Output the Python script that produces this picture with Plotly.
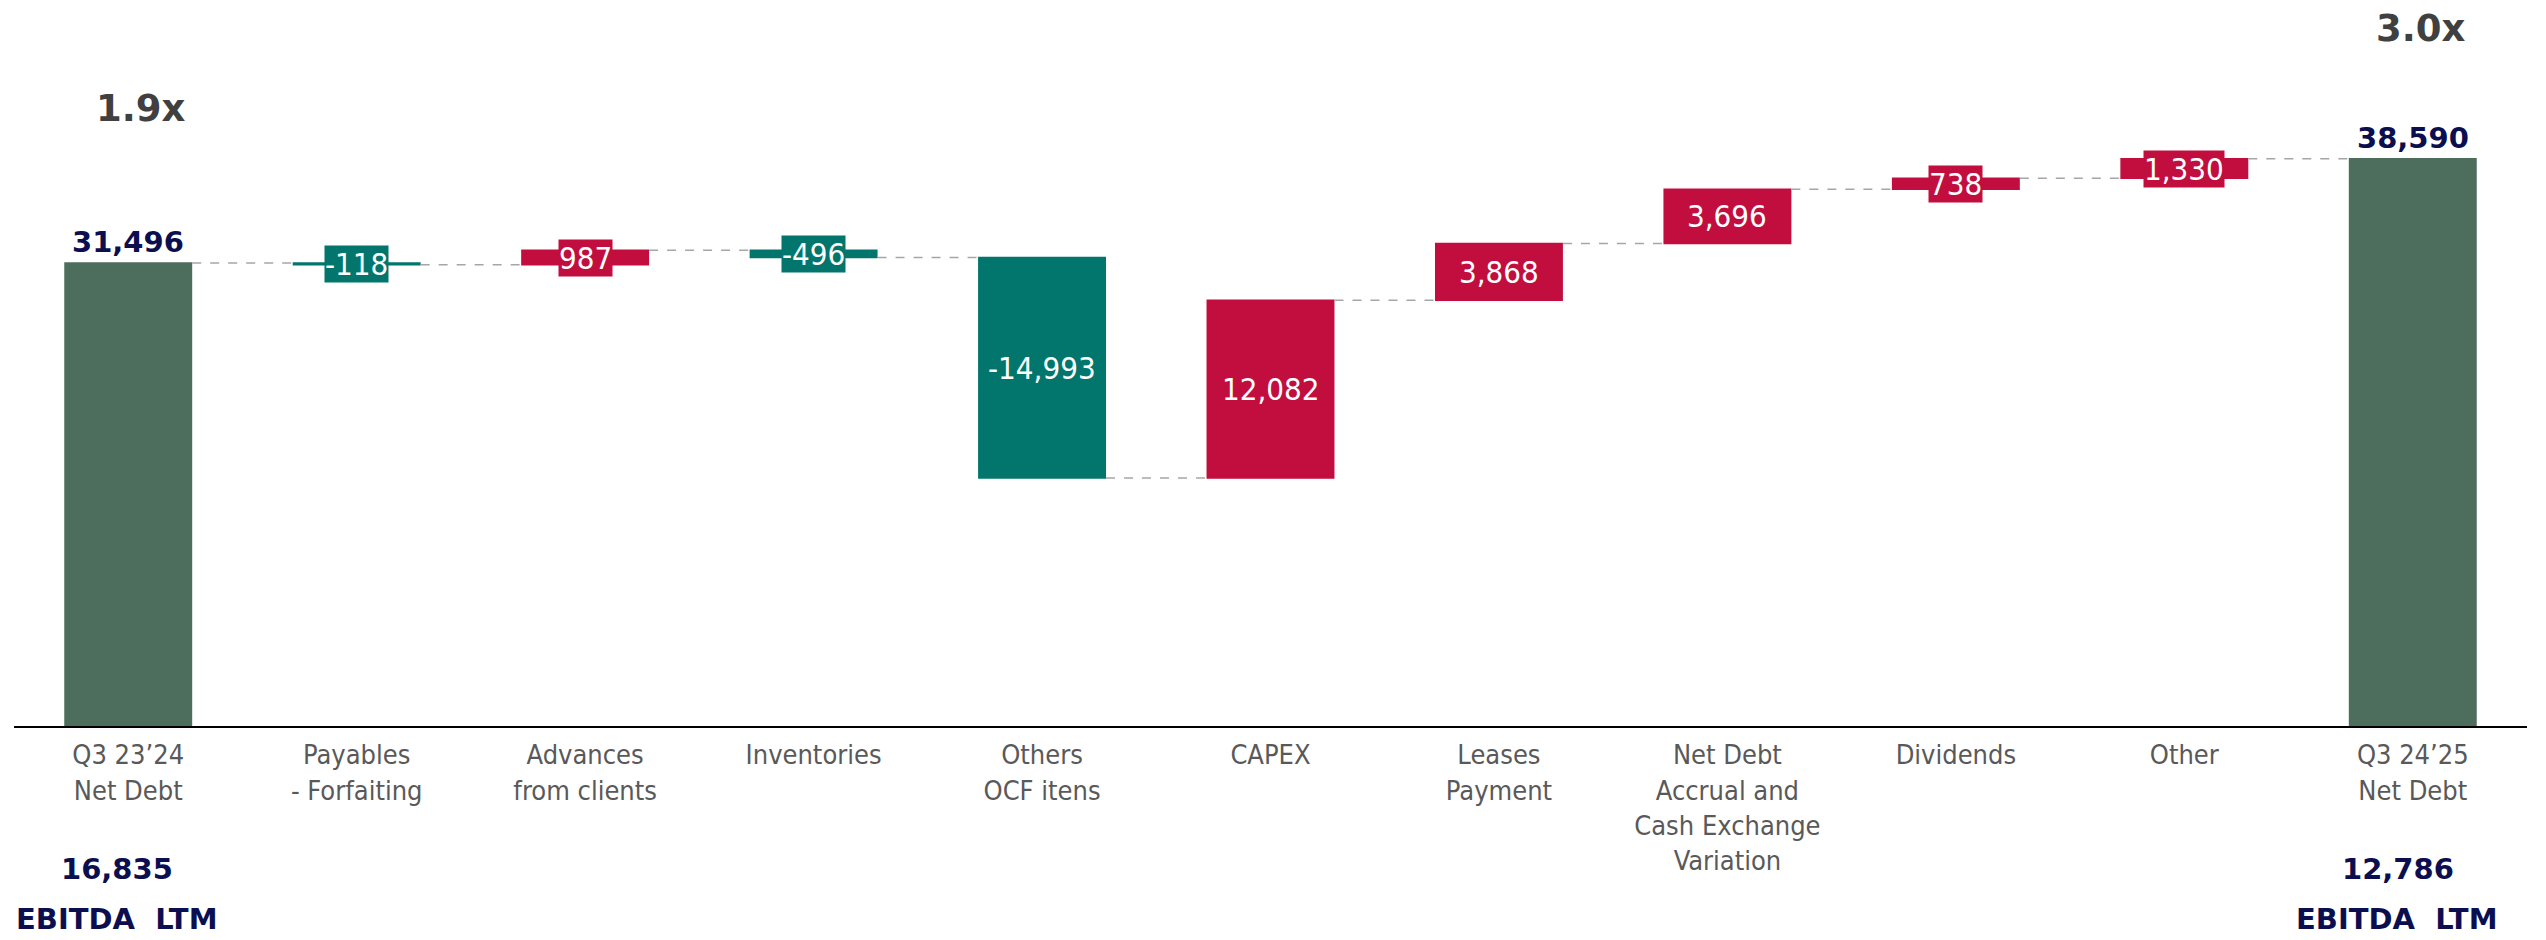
import plotly.graph_objects as go

# categories and values (net debt bridge)
categories = [
    "Q3 23’24<br>Net Debt",
    "Payables<br>- Forfaiting",
    "Advances<br>from clients",
    "Inventories",
    "Others<br>OCF itens",
    "CAPEX",
    "Leases<br>Payment",
    "Net Debt<br>Accrual and<br>Cash Exchange<br>Variation",
    "Dividends",
    "Other",
    "Q3 24’25<br>Net Debt",
]
measures = ["absolute"] + ["relative"] * 9 + ["total"]
values = [31496, -118, 987, -496, -14993, 12082, 3868, 3696, 738, 1330, 38590]
total_labels = ["31,496", "38,590"]
leverage = ["1.9x", "3.0x"]
ebitda = ["16,835", "12,786"]

TOTAL_C = "#4E6E5D"
NEG_C = "#02766C"
POS_C = "#C20E3E"
NAVY = "#0B0F50"
GREY = "#595959"
COND = "DejaVu Sans Condensed, DejaVu Sans, sans-serif"
BOLD = "DejaVu Sans, sans-serif"

fig = go.Figure(go.Waterfall(
    x=categories,
    y=values,
    measure=measures,
    textposition="none",
    totals=dict(marker=dict(color=TOTAL_C)),
    increasing=dict(marker=dict(color=POS_C)),
    decreasing=dict(marker=dict(color=NEG_C)),
    connector=dict(mode="between", line=dict(color="#A6A6A6", width=1.5, dash="dash")),
    hoverinfo="skip",
))

# delta labels, centred on each floating bar
running = values[0]
annotations = []
for cat, v in zip(categories[1:-1], values[1:-1]):
    mid = running + v / 2
    running += v
    annotations.append(dict(
        x=cat, y=mid, xref="x", yref="y", text=f"{v:,}", showarrow=False,
        font=dict(family=COND, size=31, color="white"),
        bgcolor=POS_C if v > 0 else NEG_C, borderpad=0,
    ))

# total labels on top of the first and last bar
for cat, lab, val in zip([categories[0], categories[-1]], total_labels, [values[0], values[-1]]):
    annotations.append(dict(
        x=cat, y=val, xref="x", yref="y", text=f"<b>{lab}</b>", showarrow=False,
        yanchor="bottom", yshift=2, font=dict(family=BOLD, size=29, color=NAVY),
    ))

# leverage multiples and EBITDA figures
for cat, lev, py, xs in zip([categories[0], categories[-1]], leverage, [0.874, 0.9873], [13, 8]):
    annotations.append(dict(x=cat, y=py, xref="x", yref="paper", text=f"<b>{lev}</b>",
                            xanchor="center", yanchor="middle", borderpad=0,
                            showarrow=False, xshift=xs, font=dict(family=BOLD, size=37, color="#404040")))
for cat, e, xs, xe in zip([categories[0], categories[-1]], ebitda, [-11, -15], [-11, -16]):
    annotations.append(dict(x=cat, y=-0.2025, xref="x", yref="paper", text=f"<b>{e}</b>",
                            xanchor="center", yanchor="middle", borderpad=0,
                            showarrow=False, xshift=xs, font=dict(family=BOLD, size=29, color=NAVY)))
    annotations.append(dict(x=cat, y=-0.2734, xref="x", yref="paper", text="<b>EBITDA  LTM</b>",
                            xanchor="center", yanchor="middle", borderpad=0,
                            showarrow=False, xshift=xe, font=dict(family=BOLD, size=29, color=NAVY)))

fig.update_layout(
    width=2546, height=940,
    margin=dict(l=6, r=27, t=12, b=222, autoexpand=False),
    plot_bgcolor="white", paper_bgcolor="white",
    waterfallgap=0.44,
    showlegend=False,
    annotations=annotations,
    xaxis=dict(
        showline=True, linecolor="black", linewidth=2, showgrid=False,
        tickfont=dict(family=COND, size=27, color=GREY), ticks="",
        ticklabelstandoff=4, automargin=False, range=[-0.5, 10.5],
    ),
    yaxis=dict(visible=False, range=[0, 48030], showgrid=False, zeroline=False),
)

fig.write_html("out.html")
